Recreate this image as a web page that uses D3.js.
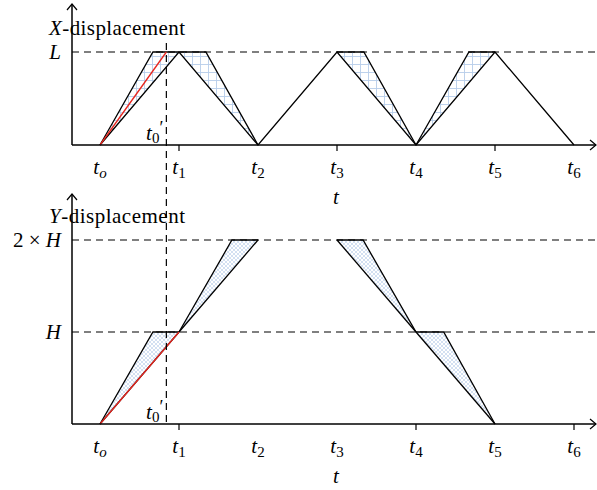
<!DOCTYPE html>
<html>
<head>
<meta charset="utf-8">
<script src="https://cdn.jsdelivr.net/npm/d3@7"></script>
<style>
  body { margin: 0; background: #fff; }
  svg { display: block; }
  text { font-family: "Liberation Serif", "DejaVu Serif", serif; fill: #000; }
</style>
</head>
<body>
<div id="chart"></div>
<script>
// time ticks t_o .. t_6 (x in units of t)
const tickSubs = ["o", "1", "2", "3", "4", "5", "6"];
const tickPos = [0, 1, 2, 3, 4, 5, 6];
const tPrime = 0.84;

// X displacement (L = 1)
const xInner = [[0, 0], [1, 1], [2, 0], [3, 1], [4, 0], [5, 1], [6, 0]];
const xOuter = [
  [[0, 0], [0.67, 1], [1.34, 1], [2, 0]],
  [[3, 1], [3.34, 1], [4, 0]],
  [[4, 0], [4.67, 1], [5, 1]]
];
const xShaded = [
  [[0, 0], [0.67, 1], [1, 1]],
  [[1, 1], [1.34, 1], [2, 0]],
  [[3, 1], [3.34, 1], [4, 0]],
  [[4, 0], [4.67, 1], [5, 1]]
];
const xRed = [[0, 0], [0.84, 1]];
const xTickMarks = [1, 3, 5];

// Y displacement (H = 1, 2H = 2)
const yInner = [
  [[0, 0], [1, 1], [2, 2]],
  [[3, 2], [4, 1], [5, 0]]
];
const yOuter = [
  [[0, 0], [0.67, 1], [1, 1]],
  [[1, 1], [1.67, 2], [2, 2]],
  [[3, 2], [3.33, 2], [4, 1], [4.35, 1], [5, 0]]
];
const yShaded = [
  [[0, 0], [0.67, 1], [1, 1]],
  [[1, 1], [1.67, 2], [2, 2]],
  [[3, 2], [3.33, 2], [4, 1]],
  [[4, 1], [4.35, 1], [5, 0]]
];
const yRed = [[0, 0], [1, 1]];
const yTickMarks = [1, 4, 6];

const width = 597, height = 490;
const svg = d3.select("#chart").append("svg")
  .attr("width", width).attr("height", height);

const defs = svg.append("defs");
const grid = defs.append("pattern").attr("id", "grid")
  .attr("patternUnits", "userSpaceOnUse").attr("width", 8).attr("height", 8);
grid.append("path").attr("d", "M0,0.5H8M0.5,0V8")
  .attr("stroke", "#b7cdea").attr("stroke-width", 0.9).attr("fill", "none");
const cross = defs.append("pattern").attr("id", "cross")
  .attr("patternUnits", "userSpaceOnUse").attr("width", 4).attr("height", 4);
cross.append("path").attr("d", "M0,0L4,4M4,0L0,4")
  .attr("stroke", "#c0d2ec").attr("stroke-width", 0.7).attr("fill", "none");

const x = d3.scaleLinear().domain([0, 6]).range([100, 574]);
const axisX0 = 72, axisX1 = 596;

function panel(y, cfg) {
  const g = svg.append("g");
  const line = d3.line().x(d => x(d[0])).y(d => y(d[1]));
  const base = y(0);

  // dashed reference levels
  cfg.levels.forEach(v => {
    g.append("line")
      .attr("x1", axisX0).attr("x2", axisX1)
      .attr("y1", y(v)).attr("y2", y(v))
      .attr("stroke", "#000").attr("stroke-width", 1.1)
      .attr("stroke-dasharray", "7,5");
  });

  cfg.shaded.forEach(p => {
    g.append("path").attr("d", line(p) + "Z")
      .attr("fill", `url(#${cfg.pattern})`).attr("stroke", "none");
  });
  cfg.inner.forEach(p => {
    g.append("path").attr("d", line(p))
      .attr("fill", "none").attr("stroke", "#000").attr("stroke-width", 1.3);
  });
  cfg.outer.forEach(p => {
    g.append("path").attr("d", line(p))
      .attr("fill", "none").attr("stroke", "#000").attr("stroke-width", 1.3);
  });
  g.append("path").attr("d", line(cfg.red))
    .attr("fill", "none").attr("stroke", "#e8261f").attr("stroke-width", 1.3);

  // axes with open arrowheads
  g.append("line").attr("x1", axisX0).attr("x2", axisX1)
    .attr("y1", base).attr("y2", base)
    .attr("stroke", "#000").attr("stroke-width", 1.5);
  g.append("path")
    .attr("d", `M${axisX1 - 6},${base - 5}L${axisX1},${base}L${axisX1 - 6},${base + 5}`)
    .attr("fill", "none").attr("stroke", "#000").attr("stroke-width", 1.2);
  g.append("line").attr("x1", axisX0).attr("x2", axisX0)
    .attr("y1", base).attr("y2", cfg.axisTop)
    .attr("stroke", "#000").attr("stroke-width", 1.5);
  g.append("path")
    .attr("d", `M${axisX0 - 5},${cfg.axisTop + 6}L${axisX0},${cfg.axisTop}L${axisX0 + 5},${cfg.axisTop + 6}`)
    .attr("fill", "none").attr("stroke", "#000").attr("stroke-width", 1.2);

  // tick marks and labels
  cfg.ticks.forEach(i => {
    g.append("line").attr("x1", x(tickPos[i])).attr("x2", x(tickPos[i]))
      .attr("y1", base).attr("y2", base + 6)
      .attr("stroke", "#000").attr("stroke-width", 1.2);
  });
  tickPos.forEach((t, i) => {
    const tx = g.append("text").attr("x", x(t)).attr("y", base + 29)
      .attr("text-anchor", "middle").attr("font-size", 21);
    tx.append("tspan").attr("font-style", "italic").text("t");
    tx.append("tspan").attr("font-size", 15).attr("dy", 4)
      .attr("font-style", tickSubs[i] === "o" ? "italic" : "normal")
      .text(tickSubs[i]);
  });
  g.append("text").attr("x", 336).attr("y", base + 59)
    .attr("text-anchor", "middle").attr("font-size", 21)
    .attr("font-style", "italic").text("t");

  // t0' label
  const tp = g.append("text").attr("x", x(tPrime) - 3).attr("y", base - 5)
    .attr("text-anchor", "end").attr("font-size", 21);
  tp.append("tspan").attr("font-style", "italic").text("t");
  tp.append("tspan").attr("font-size", 15).attr("dy", 3).text("0");
  tp.append("tspan").attr("dy", -9).attr("font-size", 18).text("\u2032");

  // y level labels
  cfg.levelLabels.forEach(l => {
    const tx = g.append("text").attr("x", 61).attr("y", y(l.v) + 7)
      .attr("text-anchor", "end").attr("font-size", 21);
    if (l.pre) tx.append("tspan").text(l.pre);
    tx.append("tspan").attr("font-style", "italic").text(l.sym);
  });

  // axis title
  const title = g.append("text").attr("x", 49).attr("y", cfg.titleY)
    .attr("font-size", 21).attr("textLength", 136).attr("lengthAdjust", "spacing");
  title.append("tspan").attr("font-style", "italic").text(cfg.titleSym);
  title.append("tspan").text("-displacement");
}

panel(d3.scaleLinear().domain([0, 1]).range([145, 52]), {
  levels: [1], shaded: xShaded, pattern: "grid", inner: [xInner], outer: xOuter,
  red: xRed, ticks: xTickMarks, axisTop: 4, titleY: 35, titleSym: "X",
  levelLabels: [{ v: 1, sym: "L" }]
});

panel(d3.scaleLinear().domain([0, 2]).range([424, 240]), {
  levels: [1, 2], shaded: yShaded, pattern: "cross", inner: yInner, outer: yOuter,
  red: yRed, ticks: yTickMarks, axisTop: 194, titleY: 223, titleSym: "Y",
  levelLabels: [{ v: 2, pre: "2 \u00d7 ", sym: "H" }, { v: 1, sym: "H" }]
});

// t0' vertical dashed line through both panels
svg.append("line").attr("x1", x(tPrime)).attr("x2", x(tPrime))
  .attr("y1", 43).attr("y2", 424)
  .attr("stroke", "#000").attr("stroke-width", 1.2)
  .attr("stroke-dasharray", "7,5");
</script>
</body>
</html>
